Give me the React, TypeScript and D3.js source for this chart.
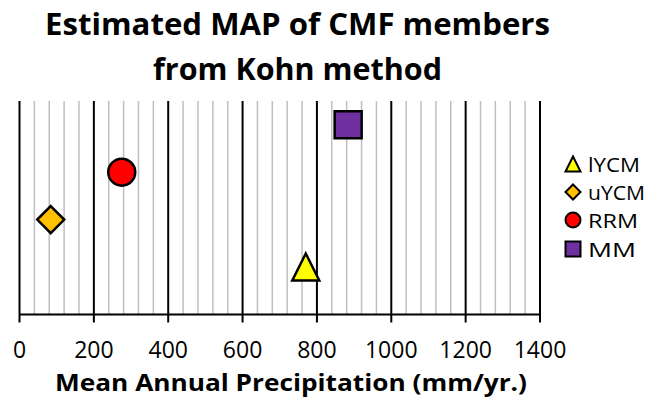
import React from "react";
import * as d3 from "d3";

// Members of the CMF and their estimated mean annual precipitation (mm/yr)
const members = ["lYCM", "uYCM", "RRM", "MM"];
const mapValues = [770, 84, 275, 884];
// Stratigraphic position used for vertical placement (lowest = 1)
const levels = [1, 2, 3, 4];
const shapes = ["triangle", "diamond", "circle", "square"];
const fills = ["#FFFF00", "#FFC000", "#FF0000", "#7030A0"];
const xTicks = [0, 200, 400, 600, 800, 1000, 1200, 1400];
const legendTextWidths = [52, 57, 50, 48];

const W = 651;
const H = 400;
const FONT = "'Open Sans', 'DejaVu Sans', sans-serif";

function markerPath(shape: string, cx: number, cy: number, h: number): string {
  const p = d3.path();
  if (shape === "triangle") {
    p.moveTo(cx, cy - h);
    p.lineTo(cx + h, cy + h);
    p.lineTo(cx - h, cy + h);
    p.closePath();
  } else if (shape === "diamond") {
    p.moveTo(cx, cy - h);
    p.lineTo(cx + h, cy);
    p.lineTo(cx, cy + h);
    p.lineTo(cx - h, cy);
    p.closePath();
  } else if (shape === "square") {
    p.rect(cx - h, cy - h, 2 * h, 2 * h);
  } else {
    p.moveTo(cx + h, cy);
    p.arc(cx, cy, h, 0, Math.PI * 2);
    p.closePath();
  }
  return p.toString();
}

export default function App() {
  const x = d3.scaleLinear().domain([0, 1400]).range([19.5, 540]);
  const y = d3.scaleLinear().domain([0, 4.5]).range([314.5, 101]);
  const minor = d3.range(0, 1401, 40).filter((v) => v % 200 !== 0);

  const legendY = [164, 192, 220, 249];

  return (
    <svg
      width={W}
      height={H}
      style={{ position: "absolute", left: 0, top: 0, background: "#fff" }}
    >
      {/* title */}
      <text
        x={297.5}
        y={35}
        textAnchor="middle"
        fontFamily={FONT}
        fontWeight="bold"
        fontSize={31}
        textLength={505}
        lengthAdjust="spacingAndGlyphs"
      >
        Estimated MAP of CMF members
      </text>
      <text
        x={297.5}
        y={80}
        textAnchor="middle"
        fontFamily={FONT}
        fontWeight="bold"
        fontSize={31}
        textLength={289}
        lengthAdjust="spacingAndGlyphs"
      >
        from Kohn method
      </text>

      {/* minor gridlines */}
      {minor.map((v) => (
        <line
          key={"m" + v}
          x1={x(v)}
          x2={x(v)}
          y1={y(4.5)}
          y2={y(0)}
          stroke="#BFBFBF"
          strokeWidth={1.5}
        />
      ))}
      {/* major gridlines and ticks */}
      {xTicks.map((v) => (
        <line
          key={"M" + v}
          x1={x(v)}
          x2={x(v)}
          y1={y(4.5)}
          y2={y(0) + 8}
          stroke="#000"
          strokeWidth={2}
        />
      ))}
      {/* x axis line */}
      <line x1={x(0)} x2={x(1400)} y1={y(0)} y2={y(0)} stroke="#000" strokeWidth={2} />

      {/* tick labels */}
      {xTicks.map((v) => (
        <text
          key={"t" + v}
          x={x(v)}
          y={358}
          textAnchor="middle"
          fontFamily={FONT}
          fontSize={23}
        >
          {v}
        </text>
      ))}

      {/* axis title */}
      <text
        x={291}
        y={391}
        textAnchor="middle"
        fontFamily={FONT}
        fontWeight="bold"
        fontSize={22.5}
        textLength={472}
        lengthAdjust="spacingAndGlyphs"
      >
        Mean Annual Precipitation (mm/yr.)
      </text>

      {/* data points */}
      {members.map((m, i) => (
        <path
          key={"p" + m}
          d={markerPath(shapes[i], x(mapValues[i]), y(levels[i]), 13.5)}
          fill={fills[i]}
          stroke="#000"
          strokeWidth={2.5}
          strokeLinejoin="miter"
        />
      ))}

      {/* legend */}
      {members.map((m, i) => (
        <g key={"l" + m}>
          <path
            d={markerPath(shapes[i], 573, legendY[i], 7.5)}
            fill={fills[i]}
            stroke="#000"
            strokeWidth={2}
          />
          <text
            x={588}
            y={legendY[i] + 7.5}
            fontFamily={FONT}
            fontSize={20.5}
            textLength={legendTextWidths[i]}
            lengthAdjust="spacingAndGlyphs"
          >
            {m}
          </text>
        </g>
      ))}
    </svg>
  );
}
